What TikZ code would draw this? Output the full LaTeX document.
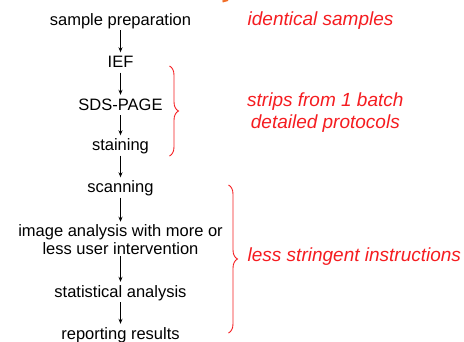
\documentclass[tikz,border=0pt]{standalone}
\usepackage{fontspec}
\setmainfont{Liberation Sans}
\usetikzlibrary{decorations.pathreplacing,arrows.meta}
\definecolor{notered}{RGB}{245,28,32}
\definecolor{titleorange}{RGB}{240,110,40}
\tikzset{
  stepnode/.style={font=\fontsize{16.5}{18}\selectfont, inner xsep=0pt, inner ysep=1pt, text height=12pt, text depth=4pt, anchor=base},
  twoline/.style={font=\fontsize{16.5}{18}\selectfont, inner xsep=0pt, inner ysep=1pt, align=center, anchor=center},
  flow/.style={-{Stealth[length=5pt,width=4pt]}, line width=0.8pt, shorten >=2pt},
  note/.style={text=notered, font=\fontsize{19}{22}\selectfont\itshape, inner sep=0pt},
  bracket/.style={draw=notered, line width=0.9pt, decorate, decoration={brace, amplitude=9pt}}
}
\begin{document}
\begin{tikzpicture}[x=1pt,y=-1pt]
\useasboundingbox (0,0) rectangle (464,341);
% fragment of cut-off title
\draw[titleorange, line width=2pt] (222.5,1.5) -- (228,0);

\node[stepnode] (prep) at (120.5,25) {sample preparation};
\node[stepnode] (ief) at (120.5,67.5) {IEF};
\node[stepnode] (sds) at (120.5,110) {SDS-PAGE};
\node[stepnode] (stain) at (120.5,150.5) {staining};
\node[stepnode] (scan) at (120.5,192.5) {scanning};
\node[twoline] (img) at (120.5,240) {image analysis with more or\\less user intervention};
\node[stepnode] (stat) at (120.5,297) {statistical analysis};
\node[stepnode] (rep) at (120.5,339) {reporting results};

\draw[flow] (prep) -- (ief);
\draw[flow] (ief) -- (sds);
\draw[flow] (sds) -- (stain);
\draw[flow] (stain) -- (scan);
\draw[flow] (scan) -- (img);
\draw[flow] (img) -- (stat);
\draw[flow] (stat) -- (rep);

\draw[bracket] (169.5,66) -- (169.5,156);
\draw[bracket] (228.5,185) -- (228.5,333);

\node[note, anchor=base west] (ident) at (247.5,25) {identical samples};
\node[note, align=center, anchor=west] (strips) at (247,113) {strips from 1 batch\\detailed protocols};
\node[note, anchor=base west] (less) at (247.5,261) {less stringent instructions};
\end{tikzpicture}
\end{document}
